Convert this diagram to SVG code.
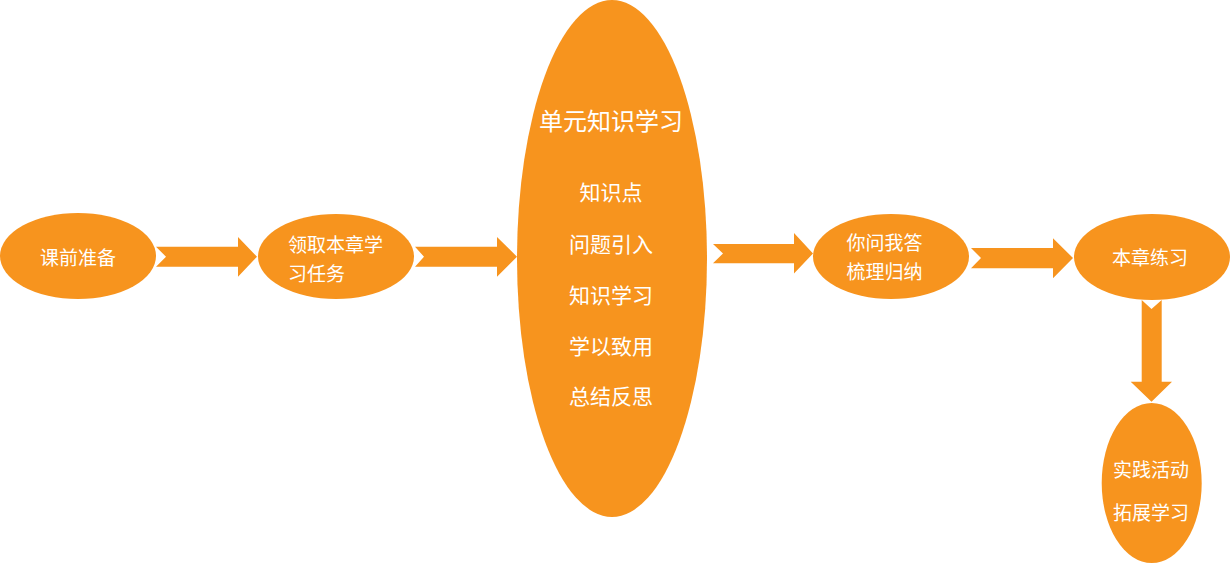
<svg xmlns="http://www.w3.org/2000/svg" width="1230" height="564" viewBox="0 0 1230 564">
<style>
.n{fill:#F7941E}
.a{fill:#F7941E}
text{fill:#FFFFFF;font-family:"Noto Sans CJK SC","Noto Sans CJK JP",sans-serif;dominant-baseline:central}
.s{font-size:19px}
.m{font-size:21px;text-anchor:middle}
.t{font-size:24px;text-anchor:middle}
.c{text-anchor:middle}
</style>
<rect width="1230" height="564" fill="#FFFFFF"/>
<g id="connectors">
<path class="a" d="M156,246.7 L238,246.7 L238,237 L257,256.7 L238,276.7 L238,266.7 L156,266.7 L166,256.7 Z"/>
<path class="a" d="M415,246.7 L497,246.7 L497,237 L517,256.7 L497,276.7 L497,266.7 L415,266.7 L424,256.7 Z"/>
<path class="a" d="M713,244 L794,244 L794,233 L813,253.5 L794,273.5 L794,263.3 L713,263.3 L723,253.5 Z"/>
<path class="a" d="M971,248 L1053,248 L1053,238.3 L1073,258 L1053,278.3 L1053,268.3 L971,268.3 L981,258 Z"/>
<path class="a" d="M1141.7,300 L1151.5,309 L1161.7,300 L1161.7,381.7 L1172,381.7 L1151.5,401.7 L1130.7,381.7 L1141.7,381.7 Z"/>
</g>
<g id="n1">
<ellipse class="n" cx="78" cy="256" rx="78" ry="43"/>
<text class="s c" x="78" y="256">课前准备</text>
</g>
<g id="n2">
<ellipse class="n" cx="336" cy="256.5" rx="78" ry="42.5"/>
<text class="s" x="288" y="243">领取本章学</text>
<text class="s" x="288" y="272">习任务</text>
</g>
<g id="n3">
<ellipse class="n" cx="612" cy="258.5" rx="95" ry="258.5"/>
<text class="t" x="611" y="119">单元知识学习</text>
<text class="m" x="611" y="191">知识点</text>
<text class="m" x="611" y="243">问题引入</text>
<text class="m" x="611" y="293.5">知识学习</text>
<text class="m" x="611" y="344.5">学以致用</text>
<text class="m" x="611" y="395">总结反思</text>
</g>
<g id="n4">
<ellipse class="n" cx="891" cy="256.5" rx="78" ry="42.5"/>
<text class="s" x="846.5" y="241.5">你问我答</text>
<text class="s" x="846.5" y="270">梳理归纳</text>
</g>
<g id="n5">
<ellipse class="n" cx="1152" cy="257" rx="78" ry="43"/>
<text class="s c" x="1150" y="256">本章练习</text>
</g>
<g id="n6">
<ellipse class="n" cx="1151.7" cy="483" rx="50" ry="80"/>
<text class="s c" x="1151" y="468">实践活动</text>
<text class="s c" x="1151" y="511">拓展学习</text>
</g>
</svg>
